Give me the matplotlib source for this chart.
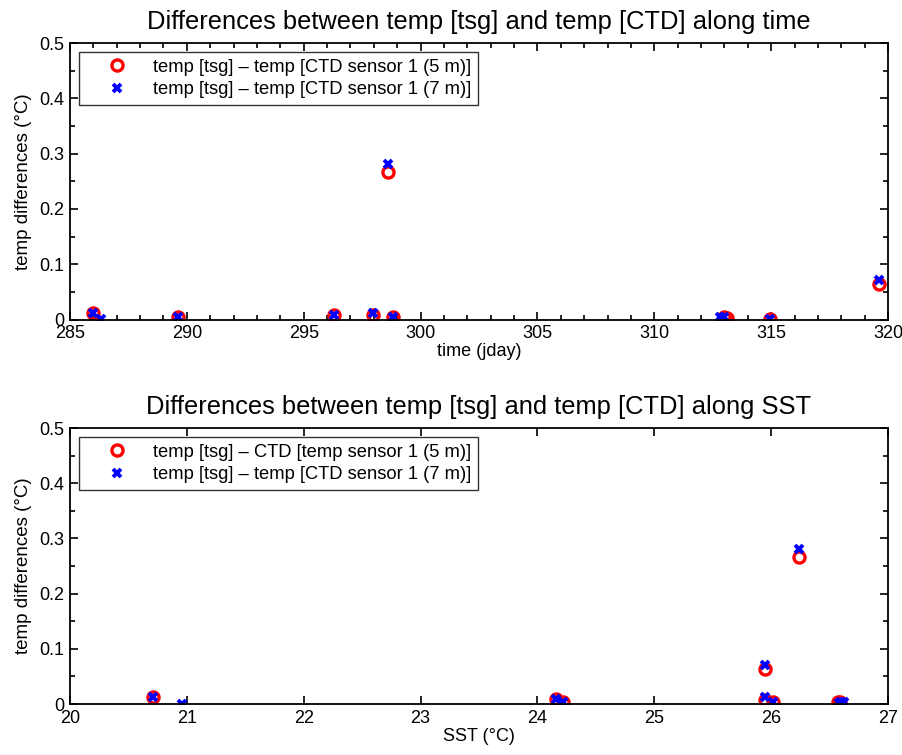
import matplotlib
matplotlib.use("Agg")
import numpy as np
from matplotlib import pyplot as plt
from matplotlib.ticker import MultipleLocator

plt.rcParams['font.family'] = ['Liberation Sans', 'DejaVu Sans']

# differences tsg - CTD, 5 m sensor
time_5m = [286.0, 289.6, 296.3, 297.95, 298.62, 298.83, 313.0, 313.1, 314.95, 319.6]
sst_5m = [20.71, 24.22, 24.16, 25.95, 26.24, 26.02, 26.57, 26.59, 26.58, 25.95]
dtemp_5m = [0.012, 0.004, 0.009, 0.008, 0.267, 0.004, 0.004, 0.003, 0.001, 0.064]

# differences tsg - CTD, 7 m sensor
time_7m = [286.0, 286.33, 289.6, 296.3, 297.95, 298.62, 298.83, 312.8, 313.0, 314.95, 319.6]
sst_7m = [20.71, 20.96, 24.22, 24.16, 25.95, 26.24, 26.02, 26.6, 26.62, 26.58, 25.95]
dtemp_7m = [0.012, 0.0005, 0.004, 0.009, 0.012, 0.281, 0.004, 0.004, 0.004, 0.001, 0.071]

lab5_top = "temp [tsg] \u2013 temp [CTD sensor 1 (5 m)]"
lab5_bot = "temp [tsg] \u2013 CTD [temp sensor 1 (5 m)]"
lab7 = "temp [tsg] \u2013 temp [CTD sensor 1 (7 m)]"

fig = plt.figure(figsize=(9.02, 7.55), dpi=100)
ax1 = fig.add_axes([0.0776, 0.5768, 0.9069, 0.3662])
ax2 = fig.add_axes([0.0776, 0.0675, 0.9069, 0.3656])


def draw(ax, x5, x7, lab5, title, xlabel, xlim, minor_x):
    ax.plot(x5, dtemp_5m, 'o', mfc='none', mec='red', ms=8, mew=2.4, ls='none', label=lab5)
    ax.plot(x7, dtemp_7m, 'x', color='blue', ms=6, mew=2.8, ls='none', label=lab7)
    ax.set_xlim(*xlim)
    ax.set_ylim(0, 0.5)
    ax.yaxis.set_major_locator(MultipleLocator(0.1))
    ax.yaxis.set_minor_locator(MultipleLocator(0.05))
    ax.yaxis.set_major_formatter(matplotlib.ticker.FuncFormatter(lambda v, p: f"{v:g}"))
    if minor_x:
        ax.xaxis.set_minor_locator(MultipleLocator(1))
    ax.tick_params(which='both', direction='in', top=True, right=True, labelsize=13, width=1.2)
    ax.tick_params(which='major', length=6, pad=4)
    ax.tick_params(which='minor', length=3.5)
    for s in ax.spines.values():
        s.set_linewidth(1.3)
    ax.set_title(title, fontsize=18.4, pad=10)
    ax.set_xlabel(xlabel, fontsize=13, labelpad=1)
    ax.set_ylabel("temp differences (\u00b0C)", fontsize=13.5, labelpad=5)
    leg = ax.legend(loc='upper left', fontsize=13.2, frameon=True, fancybox=False,
                    edgecolor='black', borderaxespad=0.5, handletextpad=0.3,
                    handlelength=3.4, labelspacing=0.3, borderpad=0.35)
    leg.get_frame().set_linewidth(1.0)


draw(ax1, time_5m, time_7m, lab5_top,
     "Differences between temp [tsg] and temp [CTD] along time",
     "time (jday)", (285, 320), True)
draw(ax2, sst_5m, sst_7m, lab5_bot,
     "Differences between temp [tsg] and temp [CTD] along SST",
     "SST (\u00b0C)", (20, 27), False)

fig.savefig("out.png", dpi=100)
